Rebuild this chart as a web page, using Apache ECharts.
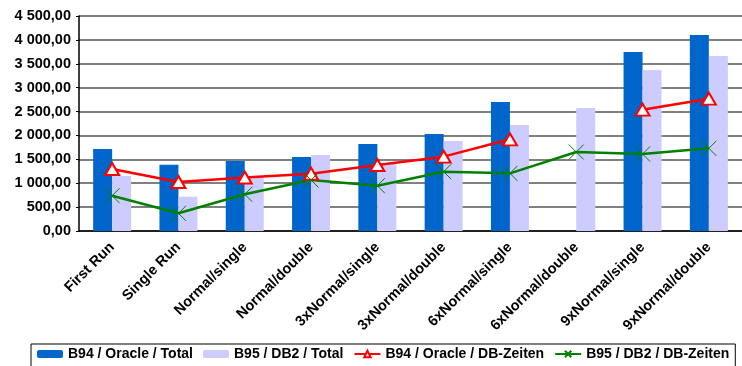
<!DOCTYPE html>
<html>
<head>
<meta charset="utf-8">
<script src="https://cdn.jsdelivr.net/npm/echarts@6/dist/echarts.min.js"></script>
<style>
  html, body { margin: 0; padding: 0; background: #fff; }
  #chart { width: 742px; height: 366px; }
</style>
</head>
<body>
<div id="chart"></div>
<script>
// categories on the x axis
const categories = [
  "First Run", "Single Run", "Normal/single", "Normal/double",
  "3xNormal/single", "3xNormal/double", "6xNormal/single",
  "6xNormal/double", "9xNormal/single", "9xNormal/double"
];
// series values
const oracleTotal = [1716, 1388, 1465, 1549, 1821, 2030, 2700, null, 3747, 4102];
const db2Total = [1151, 718, 1137, 1591, 1417, 1884, 2219, 2574, 3370, 3663];
const oracleDb = [1298, 1026, 1120, 1200, 1381, 1556, 1919, null, 2539, 2770];
const db2Db = [739, 370, 768, 1067, 948, 1242, 1207, 1653, 1612, 1730];
const seriesNames = [
  "B94 / Oracle / Total", "B95 / DB2 / Total",
  "B94 / Oracle / DB-Zeiten", "B95 / DB2 / DB-Zeiten"
];

const font = "Liberation Sans, Arial, sans-serif";

function fmt(v) {
  let parts = v.toFixed(2).split(".");
  let intPart = parts[0].replace(/\B(?=(\d{3})+(?!\d))/g, " ");
  return intPart + "," + parts[1];
}

var myChart = echarts.init(document.getElementById("chart"));
myChart.setOption({
  animation: false,
  grid: { left: 79, right: 0, top: 16, bottom: 135 },
  legend: {
    left: 31,
    top: 344,
    padding: [3, 6, 8, 6],
    borderColor: "#000",
    borderWidth: 1,
    itemWidth: 26,
    itemHeight: 8,
    itemGap: 10,
    textStyle: { fontFamily: font, fontWeight: "bold", fontSize: 14, color: "#000" },
    data: seriesNames
  },
  xAxis: {
    type: "category",
    data: categories,
    axisLine: { lineStyle: { color: "#000", width: 1.5 } },
    axisTick: { length: 4, lineStyle: { color: "#000" } },
    axisLabel: {
      rotate: 45,
      interval: 0,
      margin: 14,
      fontFamily: font,
      fontWeight: "bold",
      fontSize: 14.5,
      color: "#000"
    }
  },
  yAxis: {
    type: "value",
    min: 0,
    max: 4500,
    interval: 500,
    axisLine: { show: true, lineStyle: { color: "#000", width: 1.5 } },
    axisTick: { show: true, length: 3, lineStyle: { color: "#000" } },
    splitLine: { lineStyle: { color: "#808080", width: 2 } },
    axisLabel: {
      formatter: fmt,
      margin: 8,
      fontFamily: font,
      fontWeight: "bold",
      fontSize: 14.5,
      color: "#000"
    }
  },
  series: [
    {
      name: seriesNames[0],
      type: "bar",
      data: oracleTotal,
      barWidth: 19,
      barGap: "0%",
      itemStyle: { color: "#0066CC" }
    },
    {
      name: seriesNames[1],
      type: "bar",
      data: db2Total,
      barWidth: 19,
      barGap: "0%",
      itemStyle: { color: "#CCCCFF" }
    },
    {
      name: seriesNames[2],
      type: "line",
      data: oracleDb,
      connectNulls: false,
      symbol: "emptyTriangle",
      symbolSize: [14, 12],
      lineStyle: { color: "#FF0000", width: 2.5 },
      itemStyle: { color: "#FF0000", borderColor: "#FF0000", borderWidth: 1 }
    },
    {
      name: seriesNames[3],
      type: "line",
      data: db2Db,
      symbol: "path://M0,0L10,10M10,0L0,10",
      symbolSize: 15,
      lineStyle: { color: "#008000", width: 2.5 },
      itemStyle: { color: "#008000", borderColor: "#008000", borderWidth: 1 }
    }
  ]
});
</script>
</body>
</html>
